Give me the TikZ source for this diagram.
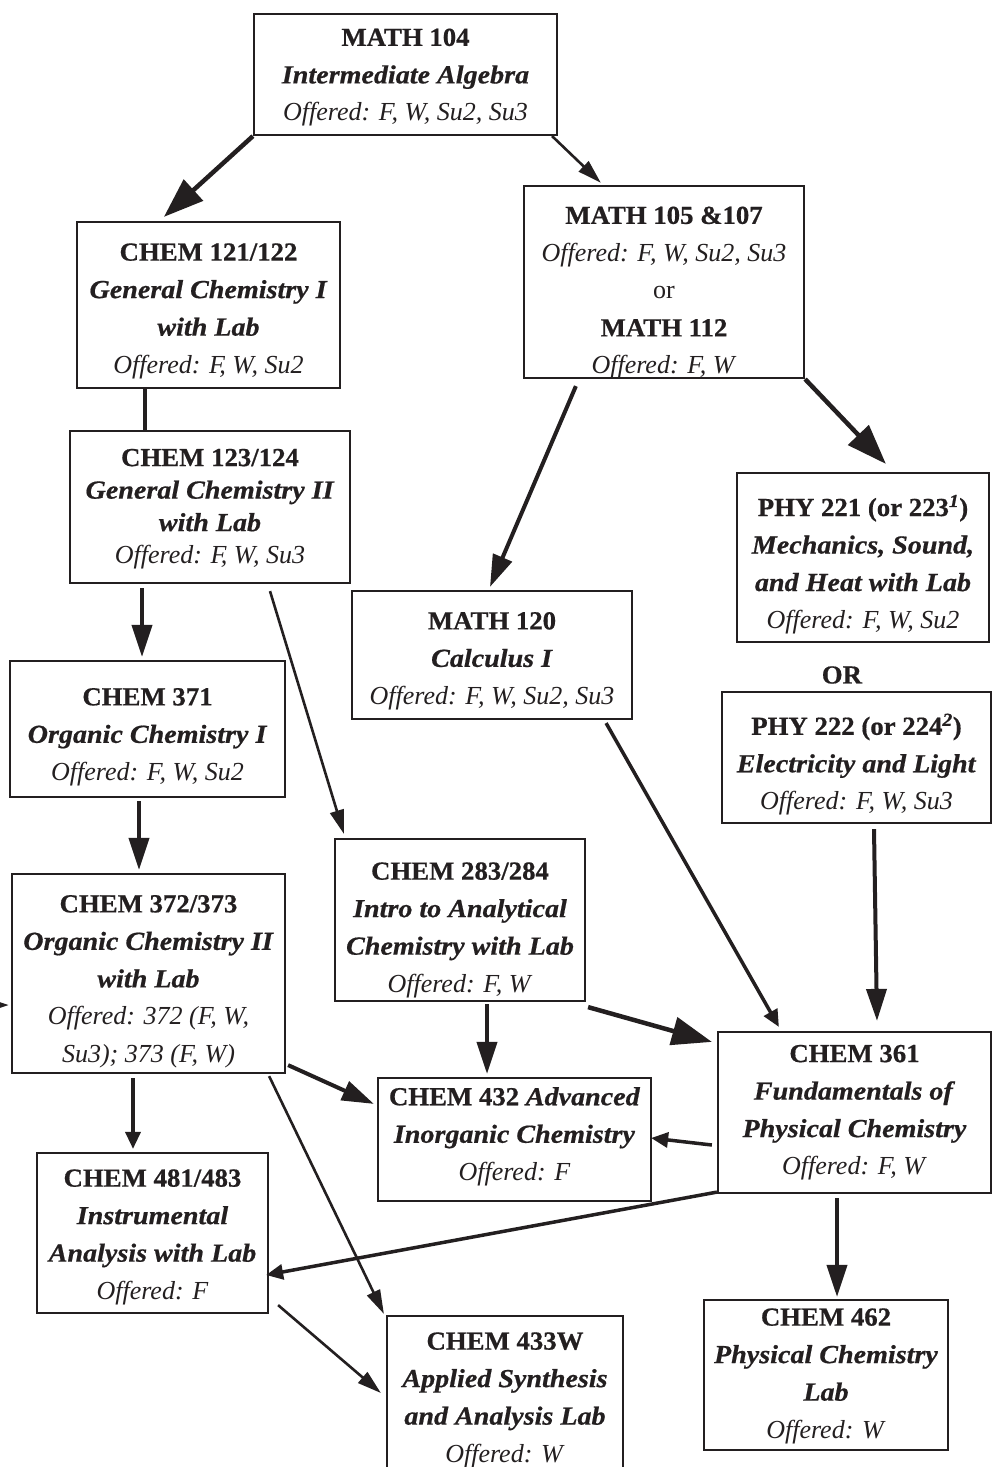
\documentclass[tikz,border=0pt]{standalone}
\usepackage{fontspec}
\setmainfont{Liberation Serif}[BoldFeatures={FakeStretch=1.03,FakeBold=0.6},BoldItalicFeatures={FakeStretch=1.08,FakeBold=0.6}]
\usetikzlibrary{arrows.meta}
\definecolor{ink}{RGB}{35,31,32}
\newcommand\fs{\fontsize{26}{37.5}\selectfont}
\newcommand\fst{\fontsize{26}{32.5}\selectfont}
\newcommand\ttl[1]{\textbf{#1}}
\newcommand\crs[1]{\textbf{\textit{#1}}}
\newcommand\off[1]{\textit{#1}}
\tikzset{
  box/.style={draw=ink, line width=2.2pt, inner sep=0pt, fill=white},
  txt/.style={align=center, inner sep=0pt, text=ink, font=\fs},
  big/.style={draw=ink, line width=4.5pt, -{Triangle[length=40pt,width=28pt]}, ink},
  mid/.style={draw=ink, line width=4pt, -{Triangle[length=32pt,width=20pt]}, ink},
  small/.style={draw=ink, line width=3.5pt, -{Triangle[length=17pt,width=15pt]}, ink},
  thin/.style={draw=ink, line width=2.6pt, -{Triangle[length=24pt,width=14pt]}, ink},
  plainln/.style={draw=ink, line width=4pt}
}
% name, cx, cy, w, h, text shift, text
\newcommand\bx[7]{%
  \node[box, minimum width=#4, minimum height=#5] (#1) at (#2,#3) {};
  \node[txt] (#1-t) at ([shift={(0,#6)}]#1.center) {#7};}
\begin{document}
\begin{tikzpicture}[x=1pt,y=-1pt]
\useasboundingbox (0,0) rectangle (992,1467);
\fill[white] (0,0) rectangle (992,1467);
\clip (0,0) rectangle (992,1467);

% boxes
\bx{m104}{405.5}{74.5}{303}{121}{3}
  {\ttl{MATH 104}\\\crs{Intermediate Algebra}\\\off{Offered: F, W, Su2, Su3}}
\bx{c121}{208.5}{305}{263}{166}{6}
  {\ttl{CHEM 121/122}\\\crs{General Chemistry I}\\\crs{with Lab}\\\off{Offered: F\kern-.22em, W, Su2}}
\bx{m105}{664}{282}{280}{192}{11}
  {\ttl{MATH 105 \&107}\\\off{Offered: F, W, Su2, Su3}\\or\\\ttl{MATH 112}\\\off{Offered: F, W}}
\node[box, minimum width=280, minimum height=152] (c123) at (210,507) {};
\node[txt, font=\fst] (c123-t) at ([shift={(0,2)}]c123.center)
  {\ttl{CHEM 123/124}\\\crs{General Chemistry II}\\\crs{with Lab}\\\off{Offered: F\kern-.22em, W, Su3}};
\bx{p221}{863}{557.5}{252}{169}{7}
  {\ttl{PHY 221 (or 223\textsuperscript{\textit{1}})}\\\crs{Mechanics, Sound,}\\\crs{and Heat with Lab}\\\off{Offered: F, W, Su2}}
\node[txt] (orlbl) at (842,675) {\ttl{OR}};
\bx{p222}{856.5}{757.5}{269}{131}{7}
  {\ttl{PHY 222 (or 224\textsuperscript{\textit{2}})}\\\crs{Electricity and Light}\\\off{Offered: F, W, Su3}}
\bx{m120}{492}{655}{280}{128}{6}
  {\ttl{MATH 120}\\\crs{Calculus I}\\\off{Offered: F, W, Su2, Su3}}
\bx{c371}{147.5}{729}{275}{136}{8}
  {\ttl{CHEM 371}\\\crs{Organic Chemistry I}\\\off{Offered: F, W, Su2}}
\bx{c283}{460}{920}{250}{162}{10}
  {\ttl{CHEM 283/284}\\\crs{Intro to Analytical}\\\crs{Chemistry with Lab}\\\off{Offered: F, W}}
\bx{c372}{148.5}{973.5}{273}{199}{8}
  {\ttl{CHEM 372/373}\\\crs{Organic Chemistry II}\\\crs{with Lab}\\\off{Offered: 372 (F, W,}\\\off{Su3); 373 (F, W)}}
\bx{c361}{854.5}{1112.5}{273}{161}{0}
  {\ttl{CHEM 361}\\\crs{Fundamentals of}\\\crs{Physical Chemistry}\\\off{Offered: F, W}}
\bx{c432}{514.5}{1139.5}{273}{123}{-3}
  {\ttl{CHEM 432 \textit{Advanced}}\\\crs{Inorganic Chemistry}\\\off{Offered: F}}
\bx{c481}{152.5}{1233}{231}{160}{4}
  {\ttl{CHEM 481/483}\\\crs{Instrumental}\\\crs{Analysis with Lab}\\\off{Offered: F}}
\bx{c433}{505}{1398}{236}{164}{2}
  {\ttl{CHEM 433W}\\\crs{Applied Synthesis}\\\crs{and Analysis Lab}\\\off{Offered: W}}
\bx{c462}{826}{1375}{244}{150}{1}
  {\ttl{CHEM 462}\\\crs{Physical Chemistry}\\\crs{Lab}\\\off{Offered: W}}
\coordinate (offleft) at (-40,1005);

% connectors
\draw[big] (m104.south west) -- ([shift={(88,-4)}]c121.north west);
\draw[thin] ([shift={(-6,0)}]m104.south east) -- ([shift={(78,-2)}]m105.north west);
\draw[plainln] ([shift={(-63.5,0)}]c121.south) -- ([shift={(-65,0)}]c123.north);
\draw[mid] ([shift={(53,7)}]m105.south west) -- ([shift={(-2,-3)}]m120.north);
\draw[big] (m105.south east) -- ([shift={(150,-8)}]p221.north west);
\draw[mid] ([shift={(-68,4)}]c123.south) -- ([shift={(-5.5,-3)}]c371.north);
\draw[thin] ([shift={(60,7)}]c123.south) -- ([shift={(10,-4)}]c283.north west);
\draw[mid] ([shift={(-8.5,3)}]c371.south) -- ([shift={(-9.5,-3)}]c372.north);
\draw[small] ([shift={(-27,3)}]m120.south east) -- ([shift={(62,-4)}]c361.north west);
\draw[mid] ([shift={(17.5,5)}]p222.south) -- ([shift={(22.5,-10)}]c361.north);
\draw[big] ([shift={(2,5)}]c283.south east) -- ([shift={(-5,11)}]c361.north west);
\draw[mid] ([shift={(27,2)}]c283.south) -- ([shift={(-27.5,-3)}]c432.north);
\draw[mid] ([shift={(2,-9)}]c372.south east) -- ([shift={(-3,27)}]c432.north west);
\draw[small] ([shift={(-15.5,4)}]c372.south) -- ([shift={(-19.5,-3)}]c481.north);
\draw[thin] ([shift={(-17,2)}]c372.south east) -- ([shift={(-2,-1)}]c433.north west);
\draw[small] ([shift={(-5,32.5)}]c361.west) -- ([shift={(-1,-1.5)}]c432.east);
\draw[small] ([shift={(0,-2)}]c361.south west) -- ([shift={(-3,42)}]c481.east);
\draw[thin] ([shift={(9,-9)}]c481.south east) -- ([shift={(-5,-5)}]c433.west);
\draw[mid] ([shift={(-17.5,4)}]c361.south) -- ([shift={(11,-2)}]c462.north);
\draw[mid] (offleft) -- ([shift={(-2,31.5)}]c372.west);
\end{tikzpicture}
\end{document}
